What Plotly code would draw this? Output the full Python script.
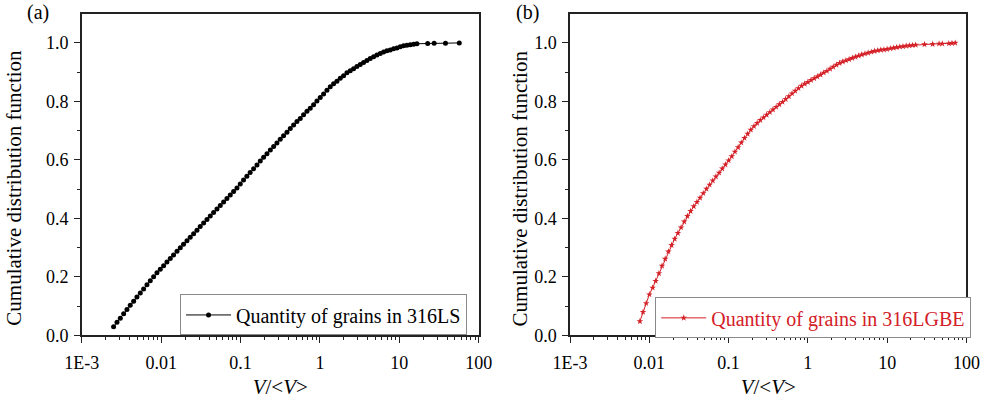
import plotly.graph_objects as go

# ---------------- data ----------------
# (a) 316LS
x_ls = [0.00251, 0.00277, 0.00305, 0.00336, 0.00370, 0.00407, 0.00449, 0.00494, 0.00545, 0.00600,
        0.00661, 0.00728, 0.00802, 0.00883, 0.00973, 0.01072, 0.0118, 0.0130, 0.0143, 0.0158,
        0.0174, 0.0191, 0.0211, 0.0232, 0.0256, 0.0282, 0.0310, 0.0342, 0.0377, 0.0415,
        0.0457, 0.0504, 0.0555, 0.0611, 0.0673, 0.0741, 0.0817, 0.0900, 0.0991, 0.109,
        0.120, 0.132, 0.146, 0.161, 0.177, 0.195, 0.215, 0.237, 0.261, 0.287,
        0.316, 0.348, 0.384, 0.423, 0.466, 0.513, 0.565, 0.622, 0.686, 0.755,
        0.832, 0.916, 1.009, 1.112, 1.225, 1.349, 1.486, 1.637, 1.803, 1.986,
        2.188, 2.410, 2.655, 2.924, 3.221, 3.548, 3.908, 4.305, 4.742, 5.224,
        5.754, 6.339, 6.982, 7.691, 8.472, 9.333, 10.28, 11.32, 12.47, 13.74,
        15.14, 16.67, 22.8, 27.5, 38.2, 57.0]
y_ls = [0.030, 0.045, 0.059, 0.074, 0.089, 0.103, 0.117, 0.131, 0.145, 0.159,
        0.173, 0.187, 0.201, 0.214, 0.226, 0.238, 0.251, 0.263, 0.275, 0.288,
        0.300, 0.312, 0.324, 0.336, 0.348, 0.360, 0.372, 0.384, 0.396, 0.408,
        0.420, 0.432, 0.444, 0.456, 0.468, 0.480, 0.492, 0.504, 0.518, 0.531,
        0.544, 0.557, 0.570, 0.583, 0.596, 0.609, 0.621, 0.634, 0.646, 0.658,
        0.671, 0.683, 0.695, 0.707, 0.719, 0.731, 0.742, 0.754, 0.766, 0.777,
        0.789, 0.801, 0.813, 0.825, 0.838, 0.850, 0.860, 0.869, 0.879, 0.888,
        0.898, 0.905, 0.912, 0.919, 0.926, 0.933, 0.940, 0.947, 0.953, 0.959,
        0.964, 0.969, 0.973, 0.976, 0.980, 0.983, 0.987, 0.990, 0.992, 0.994,
        0.995, 0.997, 0.998, 0.999, 0.999, 1.000]

# (b) 316LGBE
x_gbe = [0.00759, 0.00832, 0.00912, 0.0100, 0.0110, 0.0120, 0.0132, 0.01445, 0.01585, 0.01738,
         0.01905, 0.02089, 0.02291, 0.02512, 0.02754, 0.03020, 0.03311, 0.03631, 0.03981, 0.04365,
         0.04786, 0.05248, 0.05754, 0.06310, 0.06918, 0.07586, 0.08318, 0.09120, 0.1000, 0.1096,
         0.1202, 0.1318, 0.1445, 0.1585, 0.1738, 0.1905, 0.2089, 0.2291, 0.2512, 0.2754,
         0.3020, 0.3311, 0.3631, 0.3981, 0.4365, 0.4786, 0.5248, 0.5754, 0.6310, 0.6918,
         0.7586, 0.8318, 0.9120, 1.000, 1.096, 1.202, 1.318, 1.445, 1.585, 1.738,
         1.905, 2.089, 2.291, 2.512, 2.754, 3.020, 3.311, 3.631, 3.981, 4.365,
         4.786, 5.248, 5.754, 6.310, 6.918, 7.586, 8.318, 9.120, 10.00, 10.96,
         12.02, 13.18, 14.45, 15.85, 17.38, 19.05, 20.89, 22.91, 29.6, 37.5,
         45.2, 49.7, 60.0, 65.8, 72.3]
y_gbe = [0.048, 0.080, 0.110, 0.140, 0.163, 0.186, 0.212, 0.238, 0.262, 0.287,
         0.309, 0.330, 0.350, 0.369, 0.389, 0.408, 0.425, 0.441, 0.456, 0.470,
         0.486, 0.501, 0.515, 0.529, 0.543, 0.556, 0.570, 0.584, 0.598, 0.612,
         0.628, 0.643, 0.659, 0.675, 0.689, 0.703, 0.715, 0.726, 0.736, 0.745,
         0.754, 0.763, 0.772, 0.781, 0.790, 0.798, 0.808, 0.817, 0.827, 0.836,
         0.845, 0.853, 0.860, 0.866, 0.873, 0.879, 0.885, 0.891, 0.898, 0.904,
         0.911, 0.918, 0.925, 0.931, 0.936, 0.940, 0.944, 0.948, 0.952, 0.956,
         0.960, 0.963, 0.966, 0.969, 0.972, 0.974, 0.976, 0.977, 0.979, 0.981,
         0.983, 0.985, 0.987, 0.988, 0.990, 0.991, 0.992, 0.993, 0.995, 0.996,
         0.997, 0.997, 0.998, 0.999, 1.000]

x_tickvals = [0.001, 0.01, 0.1, 1, 10, 100]
x_ticktext = ["1E-3", "0.01", "0.1", "1", "10", "100"]
name_ls = "Quantity of grains in 316LS"
name_gbe = "Quantity of grains in 316LGBE"
y_title = "Cumulative distribution function"
x_title = "<i>V</i>/&lt;<i>V</i>&gt;"

RED = "#d42027"
FONT = "Times New Roman, Liberation Serif, serif"
W, H = 992, 402

fig = go.Figure()
fig.add_trace(go.Scatter(x=x_ls, y=y_ls, mode="lines+markers", name=name_ls,
                         line=dict(color="black", width=1),
                         marker=dict(symbol="circle", size=5, color="black"),
                         xaxis="x", yaxis="y", legend="legend"))
fig.add_trace(go.Scatter(x=x_gbe, y=y_gbe, mode="lines+markers", name=name_gbe,
                         line=dict(color=RED, width=1),
                         marker=dict(symbol="star", size=5, color=RED),
                         xaxis="x2", yaxis="y2", legend="legend2"))

minor_x = [m * 10.0 ** e for e in range(-3, 2) for m in range(2, 10)]

def xaxis(domain, anchor):
    return dict(type="log", range=[-3, 2], domain=domain, anchor=anchor,
                tickvals=x_tickvals, ticktext=x_ticktext,
                ticks="outside", ticklen=6, tickwidth=1.2, tickcolor="#222",
                ticklabelstandoff=4,
                minor=dict(tickvals=minor_x, ticks="outside", ticklen=3, tickwidth=1, tickcolor="#222"),
                showline=True, linecolor="#222", linewidth=1.5, mirror=True,
                showgrid=False, zeroline=False,
                title=dict(text=x_title, font=dict(family=FONT, size=21, color="black"), standoff=8),
                tickfont=dict(family=FONT, size=18, color="black"))

def yaxis(anchor):
    return dict(range=[0, 1.1], domain=[(H - 344) / H, (H - 14) / H], anchor=anchor,
                tickvals=[0, 0.2, 0.4, 0.6, 0.8, 1.0], tickformat=".1f",
                ticks="outside", ticklen=6, tickwidth=1.2, tickcolor="#222",
                ticklabelstandoff=2,
                minor=dict(tickvals=[0.1, 0.3, 0.5, 0.7, 0.9], ticks="outside", ticklen=3,
                           tickwidth=1, tickcolor="#222"),
                showline=True, linecolor="#222", linewidth=1.5, mirror=True,
                showgrid=False, zeroline=False,
                tickfont=dict(family=FONT, size=18, color="black"))

legend_common = dict(bordercolor="#8a8a8a", borderwidth=1, bgcolor="white",
                     yanchor="bottom", xanchor="right", itemwidth=45,
                     tracegroupgap=0)

fig.update_layout(
    width=W, height=H, margin=dict(l=0, r=0, t=0, b=0),
    paper_bgcolor="white", plot_bgcolor="white",
    font=dict(family=FONT, size=17, color="black"),
    xaxis=xaxis([66 / W, 476 / W], "y"),
    yaxis=yaxis("x"),
    xaxis2=xaxis([570.5 / W, 980 / W], "y2"),
    yaxis2=yaxis("x2"),
    legend=dict(x=464 / W, y=(H - 344) / H, font=dict(family=FONT, size=20, color="black"),
                **legend_common),
    legend2=dict(x=985 / W, y=(H - 347) / H, font=dict(family=FONT, size=20, color=RED),
                 **legend_common),
    showlegend=True,
)

ann = []
for cx, sh in ((15, -18), (521, -2)):
    ann.append(dict(text=y_title, x=cx / W, y=(H - 193) / H, xref="paper", yref="paper",
                    showarrow=False, textangle=-90, font=dict(family=FONT, size=21, color="black"),
                    xanchor="center", yanchor="middle", xshift=sh))
for lab, cx in (("(a)", 21), ("(b)", 526)):
    ann.append(dict(text=lab, x=cx / W, y=(H - 13) / H, xref="paper", yref="paper",
                    showarrow=False, font=dict(family=FONT, size=20, color="black"),
                    xanchor="center", yanchor="middle"))
fig.update_layout(annotations=ann)

fig.write_html("out.html")
